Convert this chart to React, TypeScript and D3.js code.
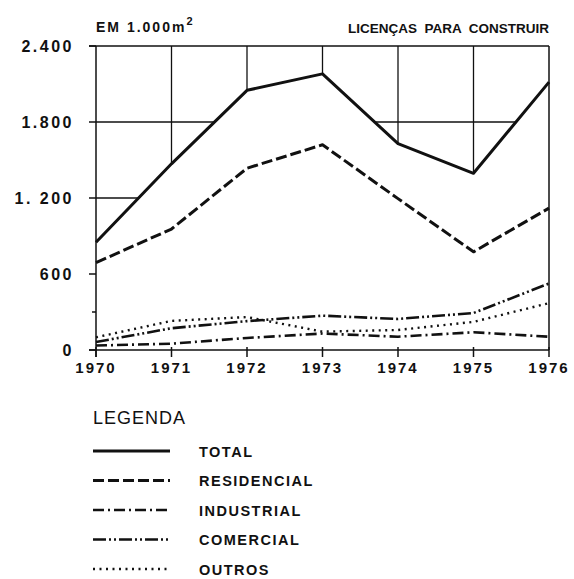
import React from 'react';
import * as d3 from 'd3';

const years = [1970, 1971, 1972, 1973, 1974, 1975, 1976];
const yearLabels = ['1970', '1971', '1972', '1973', '1974', '1975', '1976'];
const total = [850, 1470, 2050, 2180, 1630, 1395, 2115];
const residencial = [690, 955, 1435, 1620, 1195, 775, 1120];
const industrial = [35, 50, 95, 130, 105, 140, 105];
const comercial = [63, 172, 228, 271, 245, 292, 525];
const outros = [100, 230, 260, 145, 158, 222, 370];
const yTicks = [0, 600, 1200, 1800, 2400];
const yTickLabels = ['0', '600', '1. 200', '1.800', '2.400'];
const gridValues = [1200, 1800];
const seriesNames = ['TOTAL', 'RESIDENCIAL', 'INDUSTRIAL', 'COMERCIAL', 'OUTROS'];

const W = 574;
const H = 579;
const margin = { top: 46, right: 25, bottom: 229, left: 96 };

const dashes: Record<string, string | undefined> = {
  TOTAL: undefined,
  RESIDENCIAL: '11,4',
  INDUSTRIAL: '11,4,2,4',
  COMERCIAL: '13,3,2,3,2,3',
  OUTROS: '2,4.5',
};
const widths: Record<string, number> = {
  TOTAL: 3,
  RESIDENCIAL: 3,
  INDUSTRIAL: 2.6,
  COMERCIAL: 2.6,
  OUTROS: 2.4,
};

const App: React.FC = () => {
  const x = d3.scaleLinear().domain([1970, 1976]).range([margin.left, W - margin.right]);
  const y = d3.scaleLinear().domain([0, 2400]).range([H - margin.bottom, margin.top]);

  const series = [total, residencial, industrial, comercial, outros];

  const line = d3.line<number>()
    .x((_, i) => x(years[i]))
    .y(d => y(d));

  // the hand drawn grid only shows above the total curve
  const clipArea = d3.area<number>()
    .x((_, i) => x(years[i]))
    .y0(y(2400))
    .y1(d => y(d));

  const x0 = x(1970);
  const x1 = x(1976);
  const yb = y(0);
  const yt = y(2400);
  const font = '"Liberation Sans", Arial, sans-serif';
  const ink = '#111';

  return (
    <div style={{ position: 'absolute', left: 0, top: 0 }}>
      <svg width={W} height={H} style={{ display: 'block', background: '#fff' }}>
        <defs>
          <clipPath id="aboveTotal">
            <path d={clipArea(total) || ''} />
          </clipPath>
        </defs>

        {/* header */}
        <text x={96} y={32} fontFamily={font} fontSize={14} fontWeight="bold" letterSpacing={2} fill={ink}>
          EM 1.000m<tspan dy={-7} fontSize={11}>2</tspan>
        </text>
        <text x={x1} y={33} textAnchor="end" fontFamily={font} fontSize={13.5} fontWeight="bold"
          fill={ink} style={{ whiteSpace: 'pre' }}>
          {'LICENÇAS  PARA  CONSTRUIR'}
        </text>

        {/* grid */}
        <g clipPath="url(#aboveTotal)" stroke={ink} strokeWidth={1.3}>
          {gridValues.map(v => (
            <line key={'h' + v} x1={x0} x2={x1} y1={y(v)} y2={y(v)} />
          ))}
          {years.slice(1, -1).map(yr => (
            <line key={'v' + yr} x1={x(yr)} x2={x(yr)} y1={yt} y2={yb} />
          ))}
        </g>

        {/* frame */}
        <g stroke={ink} strokeWidth={1.5} fill="none">
          <line x1={x0 - 7} x2={x1} y1={yt} y2={yt} />
          <line x1={x1} x2={x1} y1={yt} y2={yb} />
          <line x1={x0} x2={x0} y1={yt} y2={yb + 7} />
          <line x1={x0 - 7} x2={x1} y1={yb} y2={yb} />
          {yTicks.map(v => (
            <line key={'yt' + v} x1={x0 - 7} x2={x0} y1={y(v)} y2={y(v)} />
          ))}
          <line x1={x0 - 4} x2={x0} y1={y(300)} y2={y(300)} />
          {years.map(yr => (
            <line key={'xt' + yr} x1={x(yr)} x2={x(yr)} y1={yb - 3} y2={yb + 7} />
          ))}
        </g>

        {/* y labels */}
        {yTicks.map((v, i) => (
          <text key={'yl' + v} x={74} y={y(v) + 6} textAnchor="end" fontFamily={font}
            fontSize={16} fontWeight="bold" letterSpacing={2.5} fill={ink}>
            {yTickLabels[i]}
          </text>
        ))}

        {/* x labels */}
        {years.map((yr, i) => (
          <text key={'xl' + yr} x={x(yr)} y={yb + 23} textAnchor="middle" fontFamily={font}
            fontSize={15} fontWeight="bold" letterSpacing={2} fill={ink}>
            {yearLabels[i]}
          </text>
        ))}

        {/* series */}
        {series.map((s, i) => (
          <path key={seriesNames[i]} d={line(s) || ''} fill="none" stroke={ink}
            strokeWidth={widths[seriesNames[i]]} strokeDasharray={dashes[seriesNames[i]]}
            strokeLinejoin="round" />
        ))}

        {/* legend */}
        <text x={93} y={424} fontFamily={font} fontSize={18} letterSpacing={1} fill={ink}>LEGENDA</text>
        {seriesNames.map((name, i) => {
          const ly = 451 + i * 29.5;
          return (
            <g key={'lg' + name}>
              <line x1={93} x2={170} y1={ly} y2={ly} stroke={ink} strokeWidth={widths[name]}
                strokeDasharray={dashes[name]} />
              <text x={199} y={ly + 5.5} fontFamily={font} fontSize={14.5} fontWeight="bold"
                letterSpacing={1.5} fill={ink}>{name}</text>
            </g>
          );
        })}
      </svg>
    </div>
  );
};

export default App;
